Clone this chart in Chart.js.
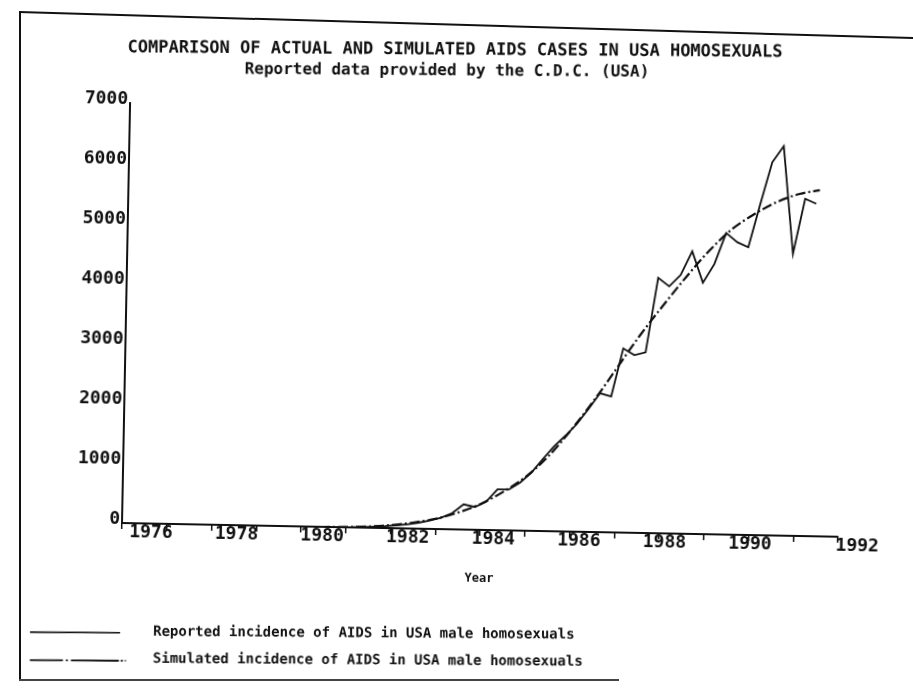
<!DOCTYPE html>
<html>
<head>
<meta charset="utf-8">
<script src="https://cdn.jsdelivr.net/npm/chart.js@4"></script>
<style>
  html, body { margin: 0; padding: 0; background: #fff; }
  #page { position: relative; width: 913px; height: 692px; overflow: hidden; background: #fff; }
  #plot { position: absolute; left: 0; top: 0; width: 913px; height: 692px;
          transform: rotate(1.1deg); transform-origin: 122px 523px; }
  .edge { position: absolute; background: #111; }
</style>
</head>
<body>
<div id="page">
  <div class="edge" style="left:19px; top:12px; width:2px; height:669px;"></div>
  <div class="edge" style="left:19px; top:679px; width:600px; height:2px; background:#444;"></div>
  <div class="edge" style="left:19px; top:11px; width:895px; height:2px; transform-origin:0 0; transform:rotate(1.67deg);"></div>
  <div id="plot"><canvas id="myChart"></canvas></div>
</div>
<script>
// the scan is a bit crooked, the plot is turned by this much
const plotTilt = 1.1;
const textTilt = 0.4;

const titleLines = [
  'COMPARISON OF ACTUAL AND SIMULATED AIDS CASES IN USA HOMOSEXUALS',
  'Reported data provided by the C.D.C. (USA)'
];

const yearTicks = [1976, 1977, 1978, 1979, 1980, 1981, 1982, 1983, 1984, 1985, 1986, 1987, 1988, 1989, 1990, 1991, 1992];
const yearLabels = [1976, 1978, 1980, 1982, 1984, 1986, 1988, 1990, 1992];
const caseTicks = [0, 1000, 2000, 3000, 4000, 5000, 6000, 7000];

// the printed year labels sit on a slightly narrower pitch than the tick marks
const labelMin = 1975.32;
const labelMax = 1992.05;

// reported cases, one value per quarter (middle of the quarter)
const reportedYears = [
  1981.125, 1981.375, 1981.625, 1981.875, 1982.125, 1982.375, 1982.625, 1982.875,
  1983.125, 1983.375, 1983.625, 1983.875, 1984.125, 1984.375, 1984.625, 1984.875,
  1985.125, 1985.375, 1985.625, 1985.875, 1986.125, 1986.375, 1986.625, 1986.875,
  1987.125, 1987.375, 1987.625, 1987.875, 1988.125, 1988.375, 1988.625, 1988.875,
  1989.125, 1989.375, 1989.625, 1989.875, 1990.125, 1990.375, 1990.625, 1990.875,
  1991.125, 1991.375
];
const reportedCases = [
  5, 10, 20, 30, 50, 70, 100, 140,
  190, 270, 420, 380, 470, 680, 680, 800,
  970, 1200, 1420, 1600, 1800, 2050, 2316, 2266,
  3070, 2960, 3010, 4258, 4118, 4311, 4711, 4190,
  4506, 5027, 4876, 4796, 5520, 6220, 6490, 4700,
  5621, 5542
];

// simulated curve, every half year
const simYears = [
  1976, 1976.5, 1977, 1977.5, 1978, 1978.5, 1979, 1979.5, 1980, 1980.5,
  1981, 1981.5, 1982, 1982.5, 1983, 1983.5, 1984, 1984.5, 1985, 1985.5,
  1986, 1986.5, 1987, 1987.5, 1988, 1988.5, 1989, 1989.5, 1990, 1990.5,
  1991, 1991.45
];
const simCases = [
  0, 0, 0, 0, 0, 0, 0, 0, 0, 0,
  5, 20, 50, 100, 170, 280, 430, 640, 900, 1250,
  1700, 2200, 2750, 3300, 3800, 4280, 4720, 5090, 5350, 5560,
  5700, 5770
];

const ink = '#111';
const mono = '"DejaVu Sans Mono", "Liberation Mono", monospace';

function tilted(ctx, cx, cy, deg, fn) {
  ctx.save();
  ctx.translate(cx, cy);
  ctx.rotate(deg * Math.PI / 180);
  ctx.translate(-cx, -cy);
  fn();
  ctx.restore();
}

// title and key are written straight on the page, not along the tilted plot
const paperText = {
  id: 'paperText',
  afterDraw(chart) {
    const ctx = chart.ctx;
    ctx.save();
    ctx.translate(122, 523);
    ctx.rotate(-plotTilt * Math.PI / 180);
    ctx.translate(-122, -523);
    ctx.fillStyle = ink;
    ctx.strokeStyle = ink;
    ctx.textBaseline = 'middle';

    tilted(ctx, 452, 60, textTilt, () => {
      ctx.textAlign = 'center';
      ctx.font = 'bold 17px ' + mono;
      ctx.fillText(titleLines[0], 455, 50);
      ctx.font = 'bold 16px ' + mono;
      ctx.fillText(titleLines[1], 447, 71);
    });

    const sets = chart.data.datasets;
    tilted(ctx, 300, 647, textTilt, () => {
      ctx.textAlign = 'left';
      ctx.font = 'bold 14px ' + mono;
      ctx.fillText(sets[0].label, 153, 633);
      ctx.fillText(sets[1].label, 153, 660);

      ctx.lineWidth = 1.6;
      ctx.beginPath();
      ctx.moveTo(30, 634);
      ctx.lineTo(120, 634);
      ctx.stroke();

      ctx.lineWidth = 1.8;
      ctx.setLineDash([33, 3, 2, 3, 48, 2, 2, 2, 2, 30]);
      ctx.beginPath();
      ctx.moveTo(30, 662);
      ctx.lineTo(126, 662);
      ctx.stroke();
    });
    ctx.restore();
  }
};

const reported = reportedYears.map((x, i) => ({ x: x, y: reportedCases[i] }));
const simulated = simYears.map((x, i) => ({ x: x, y: simCases[i] }));

const ctx = document.getElementById('myChart').getContext('2d');
const myChart = new Chart(ctx, {
  type: 'line',
  data: {
    datasets: [{
      label: 'Reported incidence of AIDS in USA male homosexuals',
      data: reported,
      borderColor: ink,
      borderWidth: 1.8,
      pointRadius: 0,
      tension: 0,
      fill: false
    },
    {
      label: 'Simulated incidence of AIDS in USA male homosexuals',
      data: simulated,
      borderColor: ink,
      borderWidth: 2.2,
      borderDash: [10, 3, 2, 3],
      pointRadius: 0,
      cubicInterpolationMode: 'monotone',
      fill: false
    }]
  },
  options: {
    responsive: true,
    maintainAspectRatio: false,
    animation: false,
    layout: { padding: { left: 62, top: 103, right: 75, bottom: 109 } },
    plugins: {
      legend: { display: false },
      tooltip: { enabled: false },
      title: { display: false }
    },
    scales: {
      x: {
        type: 'linear',
        weight: 0,
        min: 1976,
        max: 1992,
        border: { color: ink, width: 2 },
        grid: { drawOnChartArea: false, color: ink, lineWidth: 1.5, tickLength: 6 },
        afterBuildTicks: s => { s.ticks = yearTicks.map(v => ({ value: v })); },
        afterFit: s => { s.height = 0; s.paddingLeft = 0; s.paddingRight = 0; },
        ticks: { display: false }
      },
      xLabels: {
        type: 'linear',
        position: 'bottom',
        weight: 1,
        min: labelMin,
        max: labelMax,
        border: { display: false },
        grid: { display: false, drawTicks: false },
        afterBuildTicks: s => { s.ticks = yearLabels.map(v => ({ value: v })); },
        afterFit: s => { s.height = 60; s.paddingLeft = 0; s.paddingRight = 0; },
        ticks: {
          autoSkip: false,
          maxRotation: 0,
          padding: -1,
          color: ink,
          font: { family: mono, size: 18, weight: 'bold' },
          callback: v => (v === 1992 ? '    ' + v : String(v))
        },
        title: {
          display: true,
          text: 'Year',
          color: ink,
          font: { family: mono, size: 12, weight: 'bold' },
          padding: { top: 0, bottom: 4 }
        }
      },
      y: {
        min: 0,
        max: 7000,
        border: { color: ink, width: 2 },
        grid: { display: false, drawTicks: false },
        afterBuildTicks: s => { s.ticks = caseTicks.map(v => ({ value: v })); },
        afterFit: s => { s.width = 60; s.paddingTop = 0; s.paddingBottom = 0; },
        ticks: {
          autoSkip: false,
          padding: 2,
          labelOffset: -4,
          color: ink,
          font: { family: mono, size: 18, weight: 'bold' },
          callback: v => String(v)
        }
      }
    }
  },
  plugins: [paperText]
});
</script>
</body>
</html>
